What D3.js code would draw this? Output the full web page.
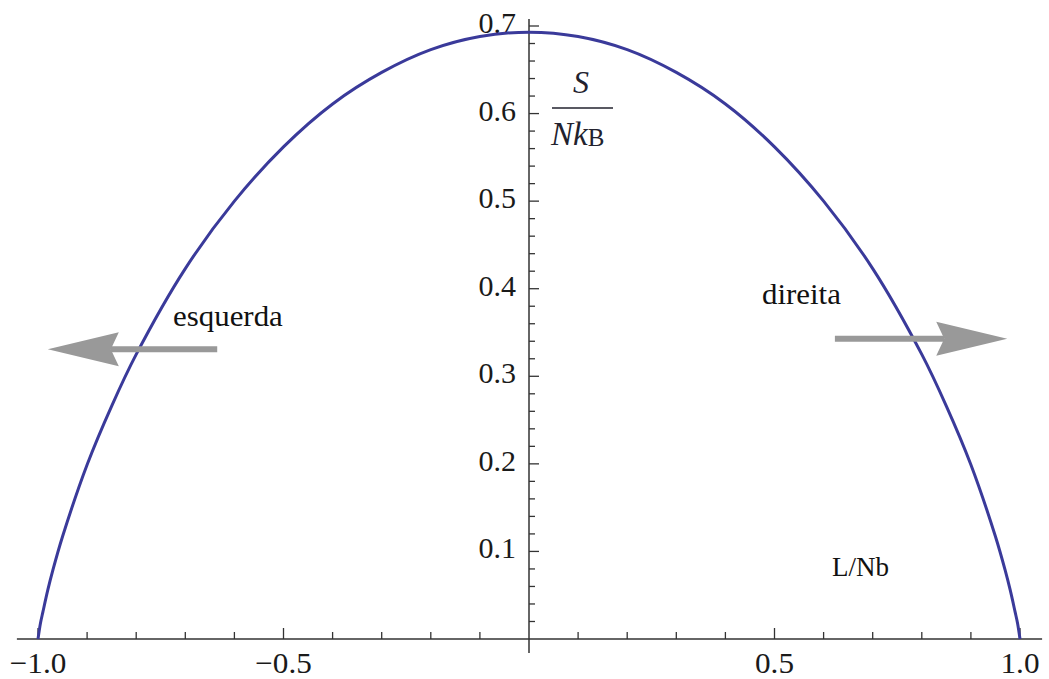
<!DOCTYPE html>
<html>
<head>
<meta charset="utf-8">
<script src="https://cdn.jsdelivr.net/npm/d3@7"></script>
<style>
  body { margin: 0; background: #ffffff; }
  svg { display: block; }
  text { font-family: "Liberation Serif", "Times New Roman", serif; }
</style>
</head>
<body>
<div id="chart-container"></div>
<script>
const width = 1049;
const height = 679;

// curve: L/Nb vs S/NkB
const curveX = [-1.0, -0.995, -0.99, -0.98, -0.97, -0.95, -0.9, -0.85, -0.8, -0.7, -0.6, -0.5, -0.4, -0.3, -0.2, -0.1,
                0.0, 0.1, 0.2, 0.3, 0.4, 0.5, 0.6, 0.7, 0.8, 0.85, 0.9, 0.95, 0.97, 0.98, 0.99, 0.995, 1.0];
const curveY = [0.0, 0.018, 0.031, 0.056, 0.078, 0.117, 0.199, 0.266, 0.325, 0.423, 0.500, 0.562, 0.611, 0.647, 0.673, 0.688,
                0.693, 0.688, 0.673, 0.647, 0.611, 0.562, 0.500, 0.423, 0.325, 0.266, 0.199, 0.117, 0.078, 0.056, 0.031, 0.018, 0.0];

const xTickValues = [-1.0, -0.5, 0.5, 1.0];
const xTickLabels = ["\u22121.0", "\u22120.5", "0.5", "1.0"];
const yTickValues = [0.1, 0.2, 0.3, 0.4, 0.5, 0.6, 0.7];
const yTickLabels = ["0.1", "0.2", "0.3", "0.4", "0.5", "0.6", "0.7"];

// annotations
const arrowLabels = ["esquerda", "direita"];
const arrowFrom = [-0.635, 0.623];
const arrowTo = [-0.980, 0.974];
const arrowY = [0.331, 0.343];
const wordX = [-0.725, 0.4745];
const wordY = [0.357, 0.383];

const x = d3.scaleLinear().domain([-1, 1]).range([38, 1020]);
const y = d3.scaleLinear().domain([0, 0.7]).range([639, 26]);

const svg = d3.select("#chart-container")
    .append("svg")
    .attr("width", width)
    .attr("height", height)
    .style("background-color", "#ffffff");

const axisColor = "#333333";

// x axis line + ticks (pointing up)
svg.append("line")
    .attr("x1", x(-1.043)).attr("x2", x(1.045))
    .attr("y1", y(0)).attr("y2", y(0))
    .attr("stroke", axisColor).attr("stroke-width", 1.5);

const xMinor = d3.range(-10, 11).filter(i => i !== 0).map(i => i / 10);
svg.append("g").selectAll("line")
    .data(xMinor)
    .join("line")
    .attr("x1", d => x(d)).attr("x2", d => x(d))
    .attr("y1", y(0))
    .attr("y2", d => y(0) - (Math.abs(Math.abs(d) - 0.5) < 1e-9 || Math.abs(Math.abs(d) - 1) < 1e-9 ? 11 : 7))
    .attr("stroke", axisColor).attr("stroke-width", 1.3);

svg.append("g").selectAll("text")
    .data(xTickValues)
    .join("text")
    .attr("transform", d => `translate(${x(d)},${y(0) + 34}) scale(1.04,1)`)
    .attr("text-anchor", "middle")
    .attr("font-size", 30)
    .attr("fill", "#1a1a1a")
    .text((d, i) => xTickLabels[i]);

// y axis line + ticks (pointing right)
svg.append("line")
    .attr("x1", x(0)).attr("x2", x(0))
    .attr("y1", y(-0.016)).attr("y2", y(0.708))
    .attr("stroke", axisColor).attr("stroke-width", 1.5);

const yMinor = d3.range(1, 36).map(i => i * 0.02);
svg.append("g").selectAll("line")
    .data(yMinor)
    .join("line")
    .attr("x1", x(0))
    .attr("x2", (d, i) => x(0) + ((i + 1) % 5 === 0 ? 10 : 6))
    .attr("y1", d => y(d)).attr("y2", d => y(d))
    .attr("stroke", axisColor).attr("stroke-width", 1.3);

svg.append("g").selectAll("text")
    .data(yTickValues)
    .join("text")
    .attr("x", x(0) - 13)
    .attr("y", d => y(d) + 7)
    .attr("text-anchor", "end")
    .attr("font-size", 30)
    .attr("fill", "#1a1a1a")
    .text((d, i) => yTickLabels[i]);

// the curve
const points = curveX.map((d, i) => [d, curveY[i]]);
svg.append("path")
    .datum(points)
    .attr("fill", "none")
    .attr("stroke", "#3a3a9a")
    .attr("stroke-width", 3)
    .attr("d", d3.line()
        .x(d => x(d[0]))
        .y(d => y(d[1]))
        .curve(d3.curveCatmullRom.alpha(0.5)));

// y label as fraction S / N k_B
const lab = svg.append("g").attr("fill", "#22222e");
lab.append("text")
    .attr("x", x(0) + 52).attr("y", 93)
    .attr("text-anchor", "middle")
    .attr("font-size", 32)
    .attr("font-style", "italic")
    .text("S");
lab.append("line")
    .attr("x1", x(0) + 23).attr("x2", x(0) + 84)
    .attr("y1", 108).attr("y2", 108)
    .attr("stroke", "#22222e").attr("stroke-width", 1.6);
const den = lab.append("text")
    .attr("x", x(0) + 22).attr("y", 145)
    .attr("font-size", 33);
den.append("tspan").attr("font-style", "italic").text("Nk");
den.append("tspan").attr("font-size", 25).attr("dy", 1).text("B");

// arrows
const arrowColor = "#999999";
arrowLabels.forEach((lbl, i) => {
    const x0 = x(arrowFrom[i]), x1 = x(arrowTo[i]), yy = y(arrowY[i]);
    const dir = Math.sign(x1 - x0);
    const headLen = 71, notch = 63, half = 17;
    svg.append("line")
        .attr("x1", x0).attr("x2", x1 - dir * notch)
        .attr("y1", yy).attr("y2", yy)
        .attr("stroke", arrowColor).attr("stroke-width", 6);
    svg.append("path")
        .attr("d", `M${x1},${yy} L${x1 - dir * headLen},${yy - half} L${x1 - dir * notch},${yy} L${x1 - dir * headLen},${yy + half} Z`)
        .attr("fill", arrowColor);
    svg.append("text")
        .attr("transform", `translate(${x(wordX[i])},${y(wordY[i])}) scale(1.03,1)`)
        .attr("font-size", 30)
        .attr("fill", "#111")
        .text(lbl);
});

svg.append("text")
    .attr("x", x(0.617)).attr("y", y(0.0719))
    .attr("font-size", 27)
    .attr("fill", "#111")
    .text("L/Nb");
</script>
</body>
</html>
